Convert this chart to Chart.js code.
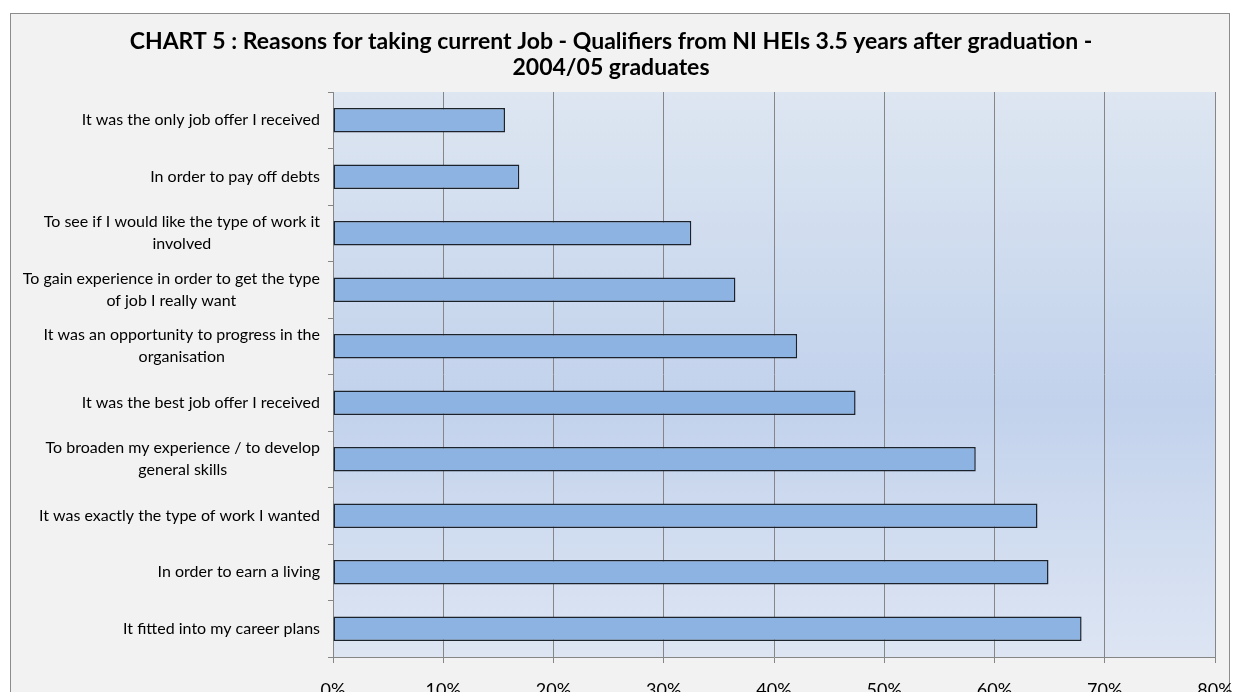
<!DOCTYPE html>
<html>
<head>
<meta charset="utf-8">
<script src="https://cdn.jsdelivr.net/npm/chart.js@4/dist/chart.umd.min.js"></script>
<style>
  html, body { margin: 0; padding: 0; background: #ffffff; overflow: hidden; }
  #wrap { width: 1235px; height: 692px; overflow: hidden; }
</style>
</head>
<body>
<div id="wrap"><canvas id="graphCanvas" width="1235" height="730"></canvas></div>
<script>
// reasons, top to bottom as they appear on the chart
var reasons = [
    ['It was the only job offer I received'],
    ['In order to pay off debts'],
    ['To see if I would like the type of work it', 'involved'],
    ['To gain experience in order to get the type', 'of job I really want'],
    ['It was an opportunity to progress in the', 'organisation'],
    ['It was the best job offer I received'],
    ['To broaden my experience / to develop', 'general skills'],
    ['It was exactly the type of work I wanted'],
    ['In order to earn a living'],
    ['It fitted into my career plans']
];
// percentage of qualifiers giving each reason
var percents = [15.6, 16.9, 32.5, 36.5, 42.1, 47.4, 58.3, 63.9, 64.9, 67.9];
var xTicks = [0, 10, 20, 30, 40, 50, 60, 70, 80];
var titleLines = [
    'CHART 5 : Reasons for taking current Job - Qualifiers from NI HEIs 3.5 years after graduation -',
    '2004/05 graduates'
];

const FONT = "Lato, 'Liberation Sans', sans-serif";

// frame + plot area gradient, drawn under everything
const backdrop = {
    id: 'backdrop',
    beforeDraw: function (chart) {
        const c = chart.ctx;
        const a = chart.chartArea;
        c.save();
        c.fillStyle = '#ffffff';
        c.fillRect(0, 0, chart.width, chart.height);
        c.fillStyle = '#f2f2f2';
        c.fillRect(10, 13, 1220, chart.height);
        c.strokeStyle = '#8c8c8c';
        c.lineWidth = 1;
        c.strokeRect(10.5, 13.5, 1219, chart.height + 10);
        const g = c.createLinearGradient(0, a.top, 0, a.bottom);
        g.addColorStop(0, '#dde6f1');
        g.addColorStop(0.55, '#c2d2ec');
        g.addColorStop(1, '#dde5f3');
        c.fillStyle = g;
        c.fillRect(a.left, a.top, a.right - a.left, a.bottom - a.top);
        c.restore();
    }
};

// category labels: block right aligned, wrapped lines centred in the block
const catLabels = {
    id: 'catLabels',
    afterDraw: function (chart) {
        const c = chart.ctx;
        const y = chart.scales.y;
        const right = 320;
        const lh = 22;
        c.save();
        c.font = "16px " + FONT;
        c.fillStyle = '#000000';
        c.textAlign = 'center';
        c.textBaseline = 'middle';
        chart.data.labels.forEach(function (lines, i) {
            var w = 0;
            lines.forEach(function (t) { w = Math.max(w, c.measureText(t).width); });
            const py = y.getPixelForValue(i) - (lines.length - 1) * lh / 2;
            lines.forEach(function (t, k) {
                c.fillText(t, right - w / 2, py + k * lh);
            });
        });
        c.restore();
    }
};

const ctx = document.getElementById('graphCanvas').getContext('2d');
const myChart = new Chart(ctx, {
    type: 'bar',
    data: {
        labels: reasons,
        datasets: [{
            data: percents,
            backgroundColor: '#8db3e2',
            borderColor: '#1c222b',
            borderWidth: 1.5,
            borderSkipped: false,
            categoryPercentage: 1,
            barPercentage: 0.43
        }]
    },
    options: {
        indexAxis: 'y',
        responsive: false,
        animation: false,
        layout: { padding: { left: 7, right: 20, top: 0, bottom: 0 } },
        plugins: {
            legend: { display: false },
            tooltip: { enabled: false },
            title: {
                display: true,
                text: titleLines,
                color: '#000000',
                font: { family: FONT, size: 23, weight: 'bold', lineHeight: '26px' },
                padding: { top: 29, bottom: 11 }
            }
        },
        scales: {
            x: {
                min: 0,
                max: 80,
                afterBuildTicks: function (scale) {
                    scale.ticks = xTicks.map(function (v) { return { value: v }; });
                },
                afterFit: function (scale) {
                    scale.height = 73;
                    scale.paddingLeft = 0;
                    scale.paddingRight = 0;
                },
                grid: { color: '#868686', lineWidth: 1, tickLength: 6 },
                border: { color: '#868686' },
                ticks: {
                    padding: 16,
                    color: '#000000',
                    font: { family: FONT, size: 18 },
                    callback: function (v) { return v + '%'; }
                }
            },
            y: {
                afterFit: function (scale) { scale.width = 326; },
                grid: { drawOnChartArea: false, offset: true, tickLength: 5, color: '#868686' },
                border: { color: '#868686' },
                ticks: { display: false }
            }
        }
    },
    plugins: [backdrop, catLabels]
});
</script>
</body>
</html>
